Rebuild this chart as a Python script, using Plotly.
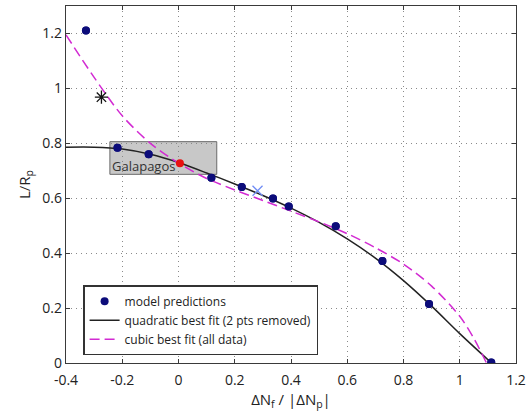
import plotly.graph_objects as go

# model predictions (navy dots)
pred_x = [-0.329, -0.217, -0.106, 0.117, 0.225, 0.336, 0.392, 0.559, 0.725, 0.891, 1.112]
pred_y = [1.211, 0.784, 0.760, 0.675, 0.641, 0.599, 0.570, 0.498, 0.371, 0.215, 0.002]
# Galapagos point (red)
gal_x = [0.005]
gal_y = [0.727]
# other markers
cross_x = [0.281]
cross_y = [0.627]
star_x = [-0.274]
star_y = [0.968]
# quadratic best fit curve
quad_x = [-0.4, -0.3, -0.2, -0.1, 0.0, 0.1, 0.2, 0.3, 0.4, 0.5, 0.6, 0.7, 0.8, 0.9, 1.0, 1.113]
quad_y = [0.786, 0.786, 0.779, 0.760, 0.730, 0.692, 0.652, 0.610, 0.564, 0.512, 0.452, 0.382, 0.300, 0.207, 0.107, 0.0]
# cubic best fit curve
cub_x = [-0.4, -0.3, -0.2, -0.1, 0.0, 0.1, 0.2, 0.3, 0.4, 0.5, 0.6, 0.7, 0.8, 0.9, 1.0, 1.05, 1.095]
cub_y = [1.195, 1.04, 0.90, 0.80, 0.728, 0.672, 0.630, 0.592, 0.553, 0.514, 0.471, 0.420, 0.360, 0.280, 0.170, 0.090, 0.0]
# Galapagos range box
box_x = [-0.244, 0.136]
box_y = [0.687, 0.806]

x_ticks = [-0.4, -0.2, 0, 0.2, 0.4, 0.6, 0.8, 1.0, 1.2]
x_labels = ["-0.4", "-0.2", "0", "0.2", "0.4", "0.6", "0.8", "1", "1.2"]
y_ticks = [0, 0.2, 0.4, 0.6, 0.8, 1.0, 1.2]
y_labels = ["0", "0.2", "0.4", "0.6", "0.8", "1", "1.2"]

FONT = "Open Sans"
fig = go.Figure()

fig.add_shape(type="rect", x0=box_x[0], x1=box_x[1], y0=box_y[0], y1=box_y[1],
              xref="x", yref="y", fillcolor="#c8c8c8", line=dict(color="#6a6a6a", width=1),
              layer="below")
fig.add_annotation(x=box_x[0], y=0.716, xref="x", yref="y", text="Galapagos",
                   showarrow=False, xanchor="left", yanchor="middle",
                   font=dict(family=FONT, size=13, color="#333333"))

fig.add_trace(go.Scatter(x=pred_x, y=pred_y, mode="markers", name="model predictions",
                         marker=dict(color="#0c0c7a", size=8), legendrank=1))
fig.add_trace(go.Scatter(x=quad_x, y=quad_y, mode="lines", name="quadratic best fit (2 pts removed)",
                         line=dict(color="#222222", width=1.5, shape="spline", smoothing=0.8),
                         legendrank=2))
fig.add_trace(go.Scatter(x=cub_x, y=cub_y, mode="lines", name="cubic best fit (all data)",
                         line=dict(color="#d22ad2", width=1.5, dash="10px,5px", shape="spline", smoothing=0.8),
                         legendrank=3))
fig.add_trace(go.Scatter(x=pred_x, y=pred_y, mode="markers", showlegend=False,
                         marker=dict(color="#0c0c7a", size=8)))
fig.add_trace(go.Scatter(x=gal_x, y=gal_y, mode="markers", showlegend=False,
                         marker=dict(color="#e81010", size=8)))
fig.add_trace(go.Scatter(x=cross_x, y=cross_y, mode="markers", showlegend=False,
                         marker=dict(symbol="x-thin-open", color="#6f8cf5", size=10, line=dict(width=1.3, color="#6f8cf5"))))
fig.add_trace(go.Scatter(x=star_x, y=star_y, mode="markers", showlegend=False,
                         marker=dict(symbol="asterisk-open", color="#111111", size=11, line=dict(width=1.3, color="#111111"))))

axis_common = dict(showline=True, linecolor="#3a3a3a", linewidth=1.3, mirror="allticks",
                   ticks="inside", ticklen=4, tickcolor="#3a3a3a",
                   showgrid=True, gridcolor="#8a8a8a", griddash="1px,4px", gridwidth=1,
                   zeroline=False, tickfont=dict(family=FONT, size=14, color="#222222"))

fig.update_xaxes(range=[-0.4, 1.2], tickvals=x_ticks, ticktext=x_labels, ticklabelstandoff=4,
                 title=dict(text="ΔN<sub>f</sub> / |ΔN<sub>p</sub>|", font=dict(family=FONT, size=15, color="#222222"), standoff=2),
                 **axis_common)
fig.update_yaxes(range=[0, 1.3], tickvals=y_ticks, ticktext=y_labels,
                 title=dict(text="L/R<sub>p</sub>", font=dict(family=FONT, size=15, color="#222222"), standoff=8),
                 **axis_common)

fig.update_layout(width=531, height=417, margin=dict(l=66, r=13, t=5, b=54),
                  paper_bgcolor="white", plot_bgcolor="white",
                  legend=dict(x=0.038, y=0.218, xanchor="left", yanchor="top",
                              bgcolor="white", bordercolor="#333333", borderwidth=1.5,
                              font=dict(family=FONT, size=12, color="#222222"),
                              tracegroupgap=0, itemwidth=30),
                  showlegend=True)

fig.write_html("out.html")
